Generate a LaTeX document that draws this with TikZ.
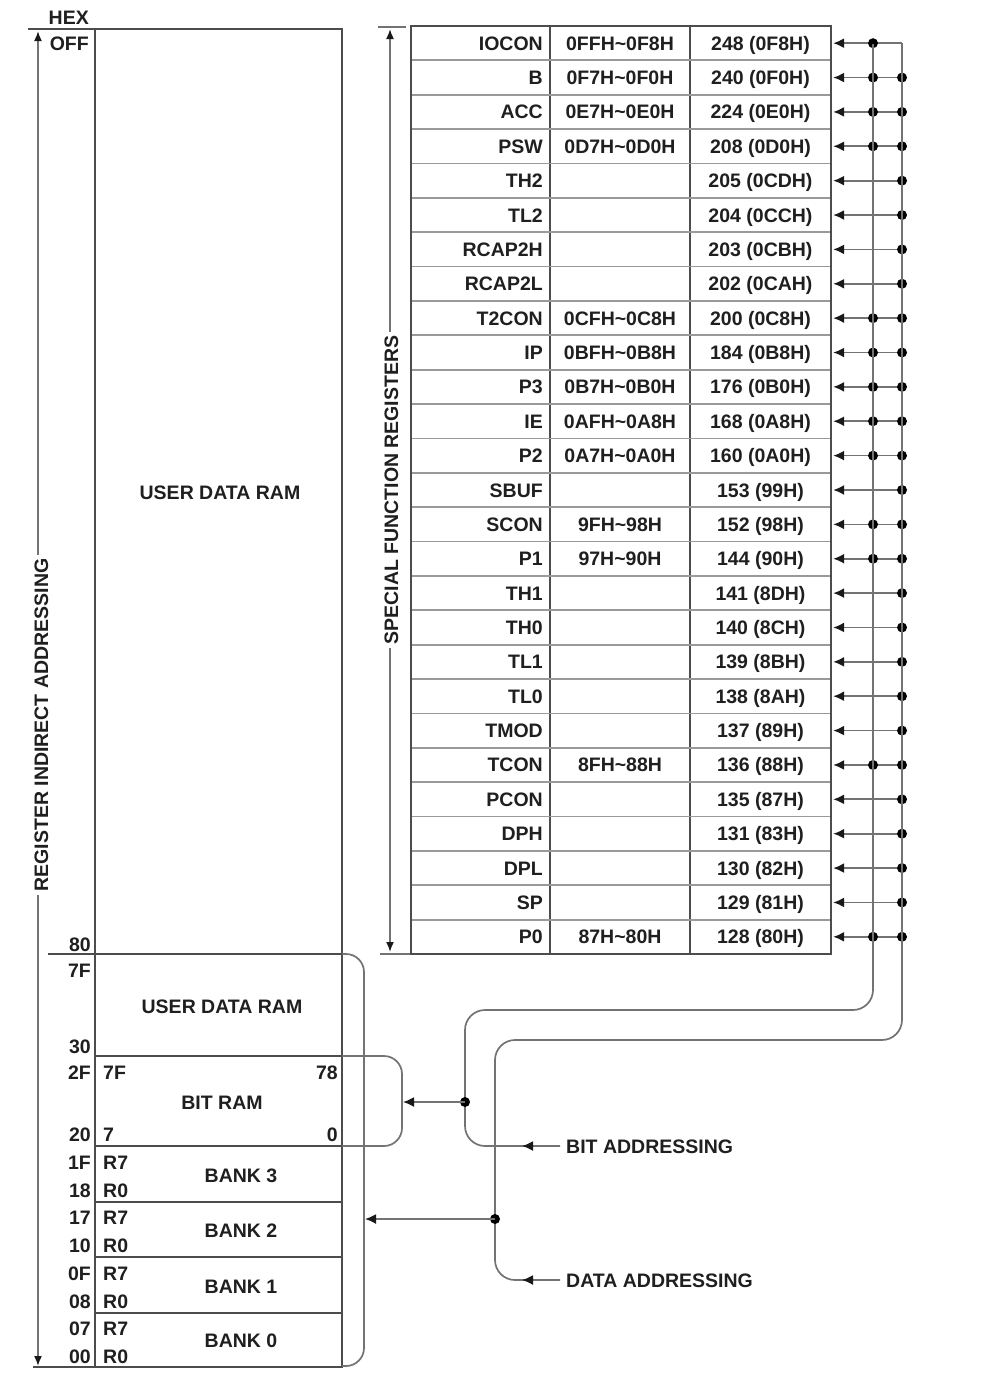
\documentclass[tikz,border=0pt]{standalone}
\usepackage{fontspec}
\setmainfont{Liberation Sans}
\usetikzlibrary{arrows.meta}
\begin{document}
\begin{tikzpicture}[x=1pt,y=-1pt,
  lbl/.style={font=\bfseries\fontsize{19.5}{21}\selectfont, inner sep=0pt, text=black!88, text height=14pt, text depth=0pt},
  boxline/.style={draw=black!70, line width=1.8pt},
  rowline/.style={draw=black!40, line width=1.8pt},
  conn/.style={draw=black!55, line width=1.7pt},
  tip/.style={-{Latex[length=11pt,width=10pt,color=black!90]}},
  dtip/.style={{Latex[length=10pt,width=8pt,color=black!90]}-{Latex[length=10pt,width=8pt,color=black!90]}},
  dots/.style={fill=black},
  cell/.style={inner sep=0pt, minimum width=141pt}
]
\useasboundingbox[fill=white] (0,0) rectangle (1001,1384);

% ---------- left memory box ----------
\draw[boxline] (95,29) rectangle (342,1367);
\draw[boxline] (28,29) -- (95,29);
\draw[boxline] (48,954) -- (342,954);
\draw[boxline] (33,1367) -- (95,1367);
\foreach \yy in {1056,1146,1202,1257,1313} \draw[boxline] (95,\yy) -- (342,\yy);

\node[lbl, anchor=east] (hex) at (89,17) {HEX};
\node[lbl, anchor=east] (off) at (89,43) {OFF};
\foreach \t/\yy [count=\k] in {80/944,7F/970,30/1046,2F/1072,20/1134,1F/1162,18/1190,17/1217,10/1245,0F/1273,08/1301,07/1328,00/1356}
  \node[lbl, anchor=east] (h\k) at (91,\yy) {\t};

\node[lbl] (udr1) at (220,492) {USER DATA RAM};
\node[lbl] (udr2) at (222,1006) {USER DATA RAM};
\node[lbl] (bitram) at (222,1102) {BIT RAM};
\node[lbl, anchor=west] (b7f) at (103,1072) {7F};
\node[lbl, anchor=east] (b78) at (338,1072) {78};
\node[lbl, anchor=west] (b7) at (103,1134) {7};
\node[lbl, anchor=east] (b0) at (338,1134) {0};
\foreach \yy/\nn [count=\k] in {1175/3,1230/2,1286/1,1340/0}{
  \node[lbl] (bank\k) at (241,\yy) {BANK \nn};
}
\foreach \yy [count=\k] in {1162,1217,1273,1328}{
  \node[lbl, anchor=west] (rs\k) at (103,\yy) {R7};
  \node[lbl, anchor=west] (rz\k) at (103,\yy+28) {R0};
}

% register indirect addressing arrow
\coordinate (ritop) at (38,31);
\coordinate (ribot) at (38,1366);
\draw[conn, dtip] (ritop) -- (ribot);
\node[lbl, rotate=90, fill=white, inner sep=4pt] (rila) at (41,725) {REGISTER INDIRECT ADDRESSING};

% ---------- SFR table ----------
\draw[boxline] (411,26) rectangle (831,954);
\draw[boxline] (550,26) -- (550,954);
\draw[boxline] (690,26) -- (690,954);
\foreach \k in {1,...,26} \draw[rowline] (412,26+34.37*\k) -- (830,26+34.37*\k);

\foreach \nm/\rg/\ad/\bt [count=\i] in {
 IOCON/0FFH\textasciitilde 0F8H/{248 (0F8H)}/1,
 B/0F7H\textasciitilde 0F0H/{240 (0F0H)}/1,
 ACC/0E7H\textasciitilde 0E0H/{224 (0E0H)}/1,
 PSW/0D7H\textasciitilde 0D0H/{208 (0D0H)}/1,
 TH2//{205 (0CDH)}/0,
 TL2//{204 (0CCH)}/0,
 RCAP2H//{203 (0CBH)}/0,
 RCAP2L//{202 (0CAH)}/0,
 T2CON/0CFH\textasciitilde 0C8H/{200 (0C8H)}/1,
 IP/0BFH\textasciitilde 0B8H/{184 (0B8H)}/1,
 P3/0B7H\textasciitilde 0B0H/{176 (0B0H)}/1,
 IE/0AFH\textasciitilde 0A8H/{168 (0A8H)}/1,
 P2/0A7H\textasciitilde 0A0H/{160 (0A0H)}/1,
 SBUF//{153 (99H)}/0,
 SCON/9FH\textasciitilde 98H/{152 (98H)}/1,
 P1/97H\textasciitilde 90H/{144 (90H)}/1,
 TH1//{141 (8DH)}/0,
 TH0//{140 (8CH)}/0,
 TL1//{139 (8BH)}/0,
 TL0//{138 (8AH)}/0,
 TMOD//{137 (89H)}/0,
 TCON/8FH\textasciitilde 88H/{136 (88H)}/1,
 PCON//{135 (87H)}/0,
 DPH//{131 (83H)}/0,
 DPL//{130 (82H)}/0,
 SP//{129 (81H)}/0,
 P0/87H\textasciitilde 80H/{128 (80H)}/1}{
  \pgfmathsetmacro{\ry}{26+34.37*(\i-0.5)}
  \node[lbl, anchor=east] (n\i) at (543,\ry) {\nm};
  \node[lbl] (r\i) at (620,\ry) {\rg};
  \node[lbl, cell] (a\i) at (760.5,\ry) {\ad};
  \coordinate (bus\i) at (902,\ry);
  \draw[conn, tip] (bus\i) -- ([xshift=2pt]a\i.east);
  \ifnum\bt=1 \fill[dots] (873,\ry) circle (5pt); \fi
  \ifnum\i>1 \fill[dots] (bus\i) circle (5pt); \fi
}

% special function registers arrow
\draw[boxline, draw=black!55] (378,27) -- (406,27);
\draw[boxline, draw=black!55] (380,954) -- (410,954);
\coordinate (sftop) at (390,29);
\coordinate (sfbot) at (390,952);
\draw[conn, dtip] (sftop) -- (sfbot);
\node[lbl, rotate=90, fill=white, inner sep=4pt] (sfla) at (391,490) {SPECIAL FUNCTION REGISTERS};

% ---------- addressing buses ----------
\node[lbl, anchor=west] (bitaddr) at (566,1146) {BIT ADDRESSING};
\node[lbl, anchor=west] (dataaddr) at (566,1280) {DATA ADDRESSING};

\coordinate (bA) at (873,1010);
\coordinate (dA) at (902,1040);
\draw[conn, rounded corners=20pt] ([xshift=-6pt]bitaddr.west) -- (465,1146) -- (465,1010) -- (bA) -- (873,44);
\draw[conn, tip] ([xshift=-6pt]bitaddr.west) -- (522,1146);
\draw[conn, rounded corners=20pt] ([xshift=-6pt]dataaddr.west) -- (495,1280) -- (495,1040) -- (dA) -- (bus1);
\draw[conn, tip] ([xshift=-6pt]dataaddr.west) -- (522,1280);

% brackets
\coordinate (brA) at (402,1102);
\coordinate (brB) at (364,1219);
\draw[conn, rounded corners=18pt] (342,1056) -- (402,1056) -- (402,1146) -- (342,1146);
\draw[conn, rounded corners=18pt] (342,954) -- (364,954) -- (364,1366) -- (342,1366);
\coordinate (jA) at (465,1102);
\coordinate (jB) at (495,1219);
\fill[dots] (jA) circle (5pt);
\fill[dots] (jB) circle (5pt);
\draw[conn, tip] (jA) -- ([xshift=1pt]brA);
\draw[conn, tip] (jB) -- ([xshift=1pt]brB);
\end{tikzpicture}
\end{document}
